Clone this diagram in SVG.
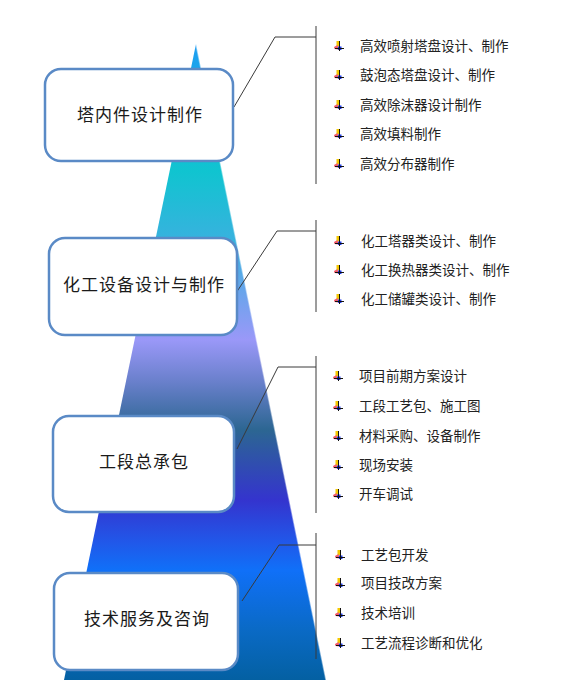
<svg xmlns="http://www.w3.org/2000/svg" xmlns:xlink="http://www.w3.org/1999/xlink" width="567" height="680" viewBox="0 0 567 680">
<style>
.node rect{fill:#ffffff;stroke:#5A8AC6;stroke-width:2.5}
.node text{font-family:"Noto Sans CJK SC","Liberation Sans",sans-serif;font-size:17px;fill:#1a1a1a;text-anchor:middle;letter-spacing:1px}
.item{font-family:"Noto Sans CJK SC","Liberation Sans",sans-serif;font-size:13.5px;fill:#222222}
.conn line,.conn polyline{fill:none;stroke:#3a3a3a;stroke-width:1}
</style>
<defs>
<linearGradient id="tri" gradientUnits="userSpaceOnUse" x1="0" y1="44" x2="0" y2="680">
<stop offset="0" stop-color="#1E9CF2"/>
<stop offset="0.10" stop-color="#18B4E0"/>
<stop offset="0.20" stop-color="#10C4D0"/>
<stop offset="0.32" stop-color="#3CB0E0"/>
<stop offset="0.465" stop-color="#9A98F8"/>
<stop offset="0.53" stop-color="#6A80CC"/>
<stop offset="0.607" stop-color="#2C6692"/>
<stop offset="0.717" stop-color="#3434CE"/>
<stop offset="0.78" stop-color="#2256E8"/>
<stop offset="0.827" stop-color="#1070F8"/>
<stop offset="0.92" stop-color="#0A6AC6"/>
<stop offset="1" stop-color="#0460A2"/>
</linearGradient>
<g id="bul">
<rect x="2.5" y="0" width="3" height="5.5" fill="#F5C800"/>
<path d="M0 6 L3.5 4 L4.5 8.5 L0.5 8 Z" fill="#F05A6A"/>
<rect x="4" y="5.5" width="3.5" height="3.5" fill="#1838F0"/>
<line x1="5.5" y1="0" x2="5.5" y2="10" stroke="#111111" stroke-width="1"/>
<line x1="1" y1="7.5" x2="10" y2="7.5" stroke="#111111" stroke-width="1"/>
</g>
</defs>

<g id="pyramid">
<polygon points="196,44 326,680 64,680" fill="url(#tri)"/>
<line x1="196" y1="44" x2="326" y2="680" stroke="#ffffff" stroke-opacity="0.45" stroke-width="1.5"/>
</g>

<g id="connectors" class="conn">
<line x1="316" y1="26" x2="316" y2="184"/>
<polyline points="316,37 275,37 234,107"/>
<line x1="316" y1="220" x2="316" y2="312"/>
<polyline points="316,231 277,231 236,293"/>
<line x1="316" y1="356" x2="316" y2="513"/>
<polyline points="316,367 278,367 237,449"/>
<line x1="316" y1="533" x2="316" y2="659"/>
<polyline points="316,545 279,545 242,601"/>
</g>

<g id="node1" class="node">
<rect x="45" y="69" width="188" height="92" rx="16"/>
<text x="140" y="121">塔内件设计制作</text>
</g>
<g id="node2" class="node">
<rect x="49" y="238" width="188" height="97" rx="16"/>
<text x="144" y="291">化工设备设计与制作</text>
</g>
<g id="node3" class="node">
<rect x="53" y="416" width="181" height="96" rx="16"/>
<text x="144" y="468">工段总承包</text>
</g>
<g id="node4" class="node">
<rect x="54" y="573" width="184" height="97" rx="16"/>
<text x="147" y="625">技术服务及咨询</text>
</g>

<g id="list1">
<use xlink:href="#bul" x="334" y="41"/>
<use xlink:href="#bul" x="334" y="70"/>
<use xlink:href="#bul" x="334" y="100"/>
<use xlink:href="#bul" x="334" y="129"/>
<use xlink:href="#bul" x="334" y="159"/>
<text class="item" x="360" y="51">高效喷射塔盘设计、制作</text>
<text class="item" x="360" y="80">鼓泡态塔盘设计、制作</text>
<text class="item" x="360" y="110">高效除沫器设计制作</text>
<text class="item" x="360" y="139">高效填料制作</text>
<text class="item" x="360" y="169">高效分布器制作</text>
</g>
<g id="list2">
<use xlink:href="#bul" x="334" y="236"/>
<use xlink:href="#bul" x="334" y="265"/>
<use xlink:href="#bul" x="334" y="294"/>
<text class="item" x="361" y="246">化工塔器类设计、制作</text>
<text class="item" x="361" y="275">化工换热器类设计、制作</text>
<text class="item" x="361" y="304">化工储罐类设计、制作</text>
</g>
<g id="list3">
<use xlink:href="#bul" x="333" y="371"/>
<use xlink:href="#bul" x="333" y="401"/>
<use xlink:href="#bul" x="333" y="431"/>
<use xlink:href="#bul" x="333" y="460"/>
<use xlink:href="#bul" x="333" y="489"/>
<text class="item" x="359" y="381">项目前期方案设计</text>
<text class="item" x="359" y="411">工段工艺包、施工图</text>
<text class="item" x="359" y="441">材料采购、设备制作</text>
<text class="item" x="359" y="470">现场安装</text>
<text class="item" x="359" y="499">开车调试</text>
</g>
<g id="list4">
<use xlink:href="#bul" x="335" y="550"/>
<use xlink:href="#bul" x="335" y="578"/>
<use xlink:href="#bul" x="335" y="608"/>
<use xlink:href="#bul" x="335" y="638"/>
<text class="item" x="361" y="560">工艺包开发</text>
<text class="item" x="361" y="588">项目技改方案</text>
<text class="item" x="361" y="618">技术培训</text>
<text class="item" x="361" y="648">工艺流程诊断和优化</text>
</g>
</svg>
